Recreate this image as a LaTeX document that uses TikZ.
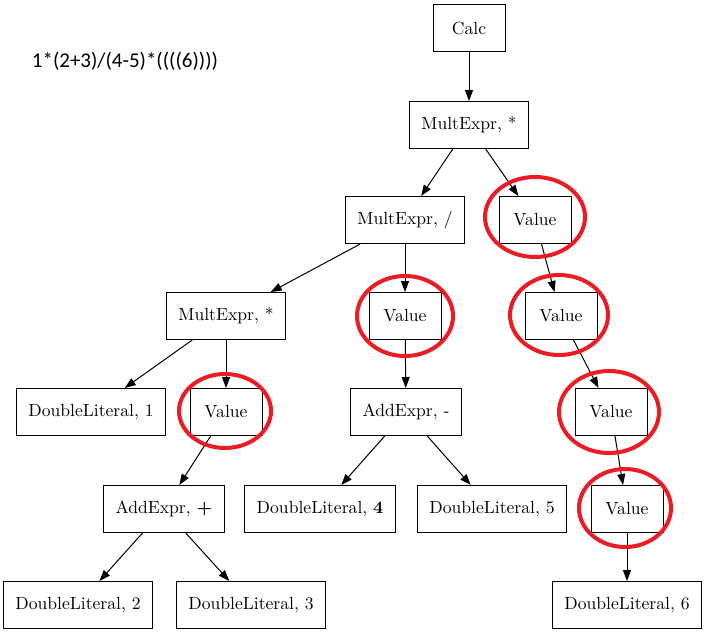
\documentclass[tikz,border=0pt]{standalone}
\usepackage{fontspec}
\newfontfamily\exprfont{Carlito}
\newfontfamily\nodefont{lmroman10-regular}[Extension=.otf, BoldFont=lmroman10-bold]
\usetikzlibrary{arrows.meta}
\definecolor{mark}{RGB}{237,28,36}
\tikzset{
  tn/.style={draw=black, line width=1pt, minimum height=47pt, minimum width=72pt,
    inner xsep=12pt, font=\nodefont\fontsize{17.6}{20}\selectfont},
  ed/.style={line width=1pt, -{Triangle[length=11pt,width=8pt]}},
  ring/.style={draw=mark, line width=4pt}
}
\begin{document}
\begin{tikzpicture}[x=1pt,y=-1pt]
\useasboundingbox (0,0) rectangle (707,635);
\node[font=\exprfont\fontsize{21}{24}\selectfont] (expr) at (125,61) {1*(2+3)/(4-5)*((((6))))};
\node[tn] (calc) at (469,28) {Calc};
\node[tn] (m1) at (469,125) {MultExpr, *};
\node[tn] (m2) at (405,220) {MultExpr, /};
\node[tn] (v1) at (535,220) {Value};
\node[tn] (m3) at (226,316) {MultExpr, *};
\node[tn] (v2) at (405,316) {Value};
\node[tn] (v3) at (561,316) {Value};
\node[tn] (d1) at (91,412) {DoubleLiteral, 1};
\node[tn] (v4) at (226,412) {Value};
\node[tn] (a1) at (406,412) {AddExpr, -};
\node[tn] (v5) at (611,412) {Value};
\node[tn] (a2) at (164,509) {AddExpr, \textbf{+}};
\node[tn] (d4) at (320,509) {DoubleLiteral, \textbf{4}};
\node[tn] (d5) at (492,509) {DoubleLiteral, 5};
\node[tn] (v6) at (627,509) {Value};
\node[tn] (d2) at (78,605) {DoubleLiteral, 2};
\node[tn] (d3) at (251,605) {DoubleLiteral, 3};
\node[tn] (d6) at (627,605) {DoubleLiteral, 6};
\draw[ed] (calc) -- (m1);
\draw[ed] (m1) -- (m2);
\draw[ed] (m1) -- (v1);
\draw[ed] (m2) -- (m3);
\draw[ed] (m2) -- (v2);
\draw[ed] (v1) -- (v3);
\draw[ed] (m3) -- (d1);
\draw[ed] (m3) -- (v4);
\draw[ed] (v2) -- (a1);
\draw[ed] (v3) -- (v5);
\draw[ed] (v4) -- (a2);
\draw[ed] (a1) -- (d4);
\draw[ed] (a1) -- (d5);
\draw[ed] (v5) -- (v6);
\draw[ed] (a2) -- (d2);
\draw[ed] (a2) -- (d3);
\draw[ed] (v6) -- (d6);
\draw[ring] (535,217) ellipse [x radius=50, y radius=40];
\draw[ring] (559,315) ellipse [x radius=49, y radius=40];
\draw[ring] (405,316) ellipse [x radius=48, y radius=40];
\draw[ring] (225,411) ellipse [x radius=46, y radius=37];
\draw[ring] (609,412) ellipse [x radius=50, y radius=41];
\draw[ring] (625,508) ellipse [x radius=46, y radius=39];
\end{tikzpicture}
\end{document}
